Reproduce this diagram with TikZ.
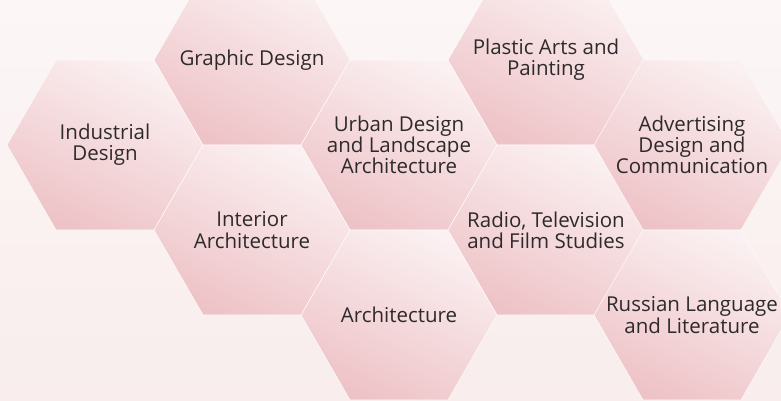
\documentclass[tikz,border=0pt]{standalone}
\usepackage{fontspec}
\setmainfont{Open Sans}
\usetikzlibrary{shapes.geometric}

\definecolor{bgtop}{HTML}{FCF6F6}
\definecolor{bgbottom}{HTML}{F9EDED}
\definecolor{hexdark}{HTML}{EEC3C7}
\definecolor{hexlight}{HTML}{FBF1F2}
\definecolor{ink}{HTML}{2E2A2B}

\tikzset{
    hex/.style={regular polygon, regular polygon sides=6, minimum size=196pt,
        inner sep=0pt, outer sep=0pt, draw=white!70!hexlight, line width=.5pt,
        shade, top color=hexlight, bottom color=hexdark, shading angle=-25},
    hexlabel/.style={align=center, text=ink, font=\fontsize{20.5}{21.3}\selectfont, inner sep=0pt}
}

\begin{document}
\begin{tikzpicture}[x=1pt, y=-1pt]
    % background
    \shade[top color=bgtop, bottom color=bgbottom] (0,0) rectangle (781,400);
    \useasboundingbox (0,0) rectangle (781,400);

\node[hex] (industrial) at (105,145) {};
\node[hex] (graphic) at (252,60) {};
\node[hex] (interior) at (252,230) {};
\node[hex] (urban) at (399,145) {};
\node[hex] (architecture) at (399,315) {};
\node[hex] (plastic) at (546,60) {};
\node[hex] (radio) at (546,230) {};
\node[hex] (advertising) at (692,145) {};
\node[hex] (russian) at (692,315) {};

\node[hexlabel] (industrialtext) at (industrial) {Industrial\\Design};
\node[hexlabel] (graphictext) at (graphic) {Graphic Design};
\node[hexlabel] (interiortext) at (interior) {Interior\\Architecture};
\node[hexlabel] (urbantext) at (urban) {Urban Design\\and Landscape\\Architecture};
\node[hexlabel] (architecturetext) at (architecture) {Architecture};
\node[hexlabel] (plastictext) at (plastic) {Plastic Arts and\\Painting};
\node[hexlabel] (radiotext) at (radio) {Radio, Television\\and Film Studies};
\node[hexlabel] (advertisingtext) at (advertising) {Advertising\\Design and\\Communication};
\node[hexlabel] (russiantext) at (russian) {Russian Language\\and Literature};

\end{tikzpicture}
\end{document}
